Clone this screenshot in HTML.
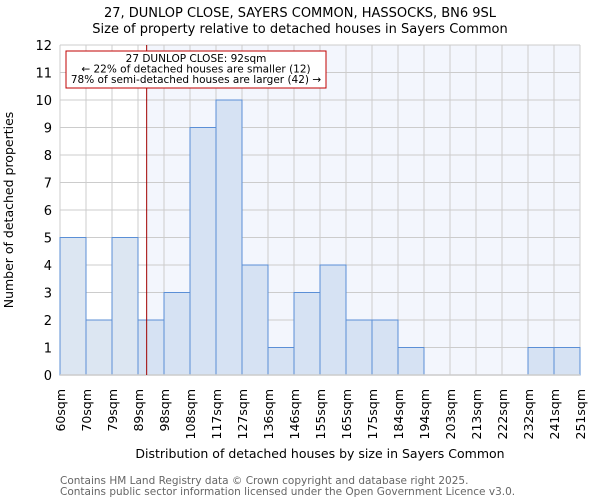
<!DOCTYPE html>
<html><head><meta charset="utf-8"><style>
body{margin:0;background:#fff;font-family:"DejaVu Sans","Liberation Sans",sans-serif;}
</style></head><body>
<svg id="chart" width="600" height="500" xmlns="http://www.w3.org/2000/svg" font-family="DejaVu Sans, Liberation Sans, sans-serif">
<text x="300" y="17" text-anchor="middle" font-size="13">27, DUNLOP CLOSE, SAYERS COMMON, HASSOCKS, BN6 9SL</text>
<text x="300" y="33" text-anchor="middle" font-size="13">Size of property relative to detached houses in Sayers Common</text>
<g id="plot"></g>
<text x="320" y="458" text-anchor="middle" font-size="12.5">Distribution of detached houses by size in Sayers Common</text>
<text transform="translate(13,210) rotate(-90)" text-anchor="middle" font-size="12.5">Number of detached properties</text>
<text x="60" y="484" font-size="10.5" fill="#666">Contains HM Land Registry data © Crown copyright and database right 2025.</text>
<text x="60" y="495" font-size="10.5" fill="#666">Contains public sector information licensed under the Open Government Licence v3.0.</text>
</svg>
<script>
const edges=[60,70,79,89,98,108,117,127,136,146,155,165,175,184,194,203,213,222,232,241,251];
const counts=[5,2,5,2,3,9,10,4,1,3,4,2,2,1,0,0,0,0,1,1];
const yTicks=[0,1,2,3,4,5,6,7,8,9,10,11,12];
const propertySize=92;
const NS="http://www.w3.org/2000/svg";
const X0=60,X1=580,Y0=375,Y1=45,nb=counts.length,bw=(X1-X0)/nb;
function xIdx(i){return X0+i*bw;}
function xVal(v){let i=0;while(i<edges.length-2&&v>edges[i+1])i++;return xIdx(i)+bw*(v-edges[i])/(edges[i+1]-edges[i]);}
function y(v){return Y0-(Y0-Y1)*v/12;}
const g=document.getElementById('plot');
function mk(t,a,parent){const e=document.createElementNS(NS,t);for(const k in a)e.setAttribute(k,a[k]);(parent||g).appendChild(e);return e;}
const px=xVal(propertySize);
let r=mk('rect',{x:px,y:Y1,width:X1-px,height:Y0-Y1,fill:'#f3f6fd'});


for(let i=0;i<edges.length;i++){let l=mk('line',{x1:xIdx(i),x2:xIdx(i),y1:Y1,y2:Y0,stroke:'#cccccc','stroke-width':1});

}
yTicks.forEach(t=>{let l=mk('line',{x1:X0,x2:X1,y1:y(t),y2:y(t),stroke:'#cccccc','stroke-width':1});


let tx=mk('text',{x:X0-8,y:y(t)+5,'text-anchor':'end','font-size':'13'});tx.textContent=t;

});
counts.forEach((c,i)=>{if(c<=0)return;const left=xIdx(i);
let b=mk('rect',{x:left,y:y(c),width:bw,height:Y0-y(c),fill:(left+bw<=px?'#dce6f2':'#d6e2f3'),stroke:'#5b8fd6','stroke-width':1});

});
edges.forEach((e,i)=>{let tx=mk('text',{transform:`translate(${xIdx(i)+5},389) rotate(-90)`,'text-anchor':'end','font-size':'12.5'});tx.textContent=e+'sqm';

});
let ax=mk('line',{x1:X0,x2:X1,y1:Y0,y2:Y0,stroke:'#cccccc','stroke-width':1.5});


let pl=mk('line',{x1:px,x2:px,y1:Y1,y2:Y0,stroke:'#a00000','stroke-width':1});


let box=mk('rect',{x:66,y:51,width:260,height:37,fill:'#fff',stroke:'#c00000','stroke-width':1});


['27 DUNLOP CLOSE: 92sqm','← 22% of detached houses are smaller (12)','78% of semi-detached houses are larger (42) →'].forEach((s,i)=>{
let tx=mk('text',{x:196,y:62+i*10.5,'text-anchor':'middle','font-size':'10.5'});tx.textContent=s;

});
</script>
</body></html>
